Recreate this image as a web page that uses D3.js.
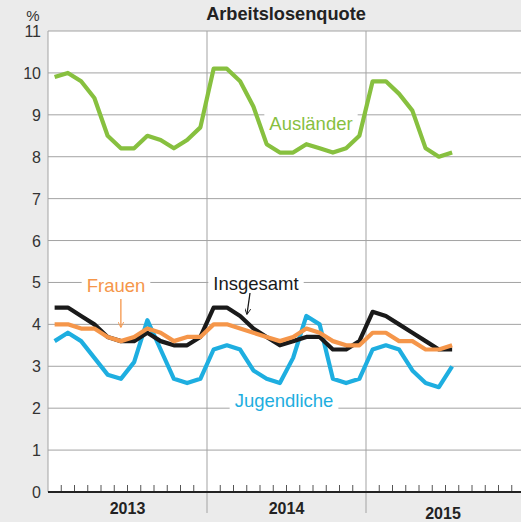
<!DOCTYPE html>
<html>
<head>
<meta charset="utf-8">
<script src="https://cdn.jsdelivr.net/npm/d3@7/dist/d3.min.js"></script>
<style>
  html, body { margin: 0; padding: 0; background: #ebebeb; }
  svg { display: block; font-family: "Liberation Sans", Arial, Helvetica, sans-serif; }
</style>
</head>
<body>
<svg id="chart" width="521" height="522"></svg>
<script>
// Monthly unemployment rates in %, Jan 2013 – Jul 2015
const years = ["2013", "2014", "2015"];
const monthsAxis = years.flatMap(y => d3.range(1, 13).map(m => `${y}-${String(m).padStart(2, "0")}`));
const months = monthsAxis.slice(0, 31);

const auslaender = [
  9.9, 10.0, 9.8, 9.4, 8.5, 8.2, 8.2, 8.5, 8.4, 8.2, 8.4, 8.7,
  10.1, 10.1, 9.8, 9.2, 8.3, 8.1, 8.1, 8.3, 8.2, 8.1, 8.2, 8.5,
  9.8, 9.8, 9.5, 9.1, 8.2, 8.0, 8.1
];
const insgesamt = [
  4.4, 4.4, 4.2, 4.0, 3.7, 3.6, 3.6, 3.8, 3.6, 3.5, 3.5, 3.7,
  4.4, 4.4, 4.2, 3.9, 3.7, 3.5, 3.6, 3.7, 3.7, 3.4, 3.4, 3.6,
  4.3, 4.2, 4.0, 3.8, 3.6, 3.4, 3.4
];
const frauen = [
  4.0, 4.0, 3.9, 3.9, 3.7, 3.6, 3.7, 3.9, 3.8, 3.6, 3.7, 3.7,
  4.0, 4.0, 3.9, 3.8, 3.7, 3.6, 3.7, 3.9, 3.8, 3.6, 3.5, 3.5,
  3.8, 3.8, 3.6, 3.6, 3.4, 3.4, 3.5
];
const jugendliche = [
  3.6, 3.8, 3.6, 3.2, 2.8, 2.7, 3.1, 4.1, 3.4, 2.7, 2.6, 2.7,
  3.4, 3.5, 3.4, 2.9, 2.7, 2.6, 3.2, 4.2, 4.0, 2.7, 2.6, 2.7,
  3.4, 3.5, 3.4, 2.9, 2.6, 2.5, 3.0
];
const yTicks = d3.range(0, 12);

const svg = d3.select("#chart");
const plotLeft = 48, plotRight = 525, plotTop = 31, plotBottom = 492;

const x = d3.scaleBand().domain(monthsAxis).range([plotLeft, plotRight]).paddingInner(0).paddingOuter(0);
const y = d3.scaleLinear().domain([0, 11]).range([plotBottom, plotTop]);
const cx = m => x(m) + x.bandwidth() / 2;

// plot background
svg.append("rect").attr("x", plotLeft).attr("y", plotTop)
  .attr("width", plotRight - plotLeft).attr("height", plotBottom - plotTop).attr("fill", "#ffffff");

// horizontal grid
svg.append("g").selectAll("line").data(yTicks.filter(d => d > 0)).join("line")
  .attr("x1", plotLeft).attr("x2", plotRight)
  .attr("y1", d => y(d)).attr("y2", d => y(d))
  .attr("stroke", "#a3a3a3").attr("stroke-width", 1);

// left border
svg.append("line").attr("x1", plotLeft).attr("x2", plotLeft).attr("y1", plotTop).attr("y2", plotBottom)
  .attr("stroke", "#a3a3a3").attr("stroke-width", 1);

// year dividers
svg.append("g").selectAll("line").data(years.slice(1)).join("line")
  .attr("x1", d => x(`${d}-01`)).attr("x2", d => x(`${d}-01`))
  .attr("y1", plotTop).attr("y2", 513)
  .attr("stroke", "#a3a3a3").attr("stroke-width", 1);

// month ticks
svg.append("g").selectAll("line")
  .data(monthsAxis.filter(m => !m.endsWith("-01")))
  .join("line")
  .attr("x1", d => x(d)).attr("x2", d => x(d))
  .attr("y1", plotBottom - 7).attr("y2", plotBottom)
  .attr("stroke", "#555").attr("stroke-width", 1);

// y axis labels
svg.append("g").selectAll("text").data(yTicks).join("text")
  .attr("x", 41).attr("y", d => y(d) + 6)
  .attr("text-anchor", "end")
  .attr("font-size", 16).attr("fill", "#333")
  .text(d => d);

svg.append("text").attr("x", 33).attr("y", 21).attr("text-anchor", "middle")
  .attr("font-size", 15).attr("fill", "#333").text("%");

// title
svg.append("text").attr("x", 286).attr("y", 20).attr("text-anchor", "middle")
  .attr("font-size", 18.2).attr("font-weight", "bold").attr("fill", "#222")
  .text("Arbeitslosenquote");

// year labels
const yearPos = { "2013": [x("2013-07"), 514], "2014": [x("2014-07"), 514], "2015": [443, 519] };
svg.append("g").selectAll("text").data(years).join("text")
  .attr("x", d => yearPos[d][0]).attr("y", d => yearPos[d][1])
  .attr("text-anchor", "middle").attr("font-size", 16).attr("font-weight", "bold")
  .attr("fill", "#222").text(d => d);

// series labels with white boxes over the grid
const labels = [
  { text: "Ausländer", x: 311, y: 130, color: "#87c03f" },
  { text: "Frauen", x: 116, y: 292, color: "#f5964a" },
  { text: "Insgesamt", x: 256, y: 290, color: "#1a1a1a" },
  { text: "Jugendliche", x: 284, y: 407, color: "#1eaee0" }
];
const lg = svg.append("g");
labels.forEach(l => {
  const t = lg.append("text").attr("x", l.x).attr("y", l.y).attr("text-anchor", "middle")
    .attr("font-size", 18.5).attr("fill", l.color).text(l.text);
  const b = t.node().getBBox();
  lg.insert("rect", "text").attr("x", b.x - 5).attr("y", b.y).attr("width", b.width + 10)
    .attr("height", b.height).attr("fill", "#ffffff");
});

// arrows
const defs = svg.append("defs");
function marker(id, color) {
  defs.append("marker").attr("id", id).attr("viewBox", "0 0 10 10")
    .attr("refX", 9).attr("refY", 5).attr("markerWidth", 6).attr("markerHeight", 6)
    .attr("markerUnits", "userSpaceOnUse").attr("orient", "auto")
    .append("path").attr("d", "M0,0 L10,5 L0,10").attr("fill", "none")
    .attr("stroke", color).attr("stroke-width", 1.5);
}
marker("arrOrange", "#f5964a");
marker("arrBlack", "#1a1a1a");
svg.append("line").attr("x1", cx("2013-06")).attr("y1", 299).attr("x2", cx("2013-06")).attr("y2", 327)
  .attr("stroke", "#f5964a").attr("stroke-width", 1.3).attr("marker-end", "url(#arrOrange)");
svg.append("line").attr("x1", 250).attr("y1", 293).attr("x2", 247).attr("y2", 314)
  .attr("stroke", "#1a1a1a").attr("stroke-width", 1.3).attr("marker-end", "url(#arrBlack)");

// x axis baseline
svg.append("line").attr("x1", plotLeft).attr("x2", plotRight).attr("y1", plotBottom).attr("y2", plotBottom)
  .attr("stroke", "#222").attr("stroke-width", 2.2);

// series lines
const line = d3.line().x((d, i) => cx(months[i])).y(d => y(d));
const series = [
  { values: jugendliche, color: "#1eaee0" },
  { values: insgesamt, color: "#1a1a1a" },
  { values: frauen, color: "#f5964a" },
  { values: auslaender, color: "#87c03f" }
];
svg.append("g").selectAll("path").data(series).join("path")
  .attr("d", d => line(d.values))
  .attr("fill", "none").attr("stroke", d => d.color)
  .attr("stroke-width", 4.2).attr("stroke-linejoin", "round");
</script>
</body>
</html>
